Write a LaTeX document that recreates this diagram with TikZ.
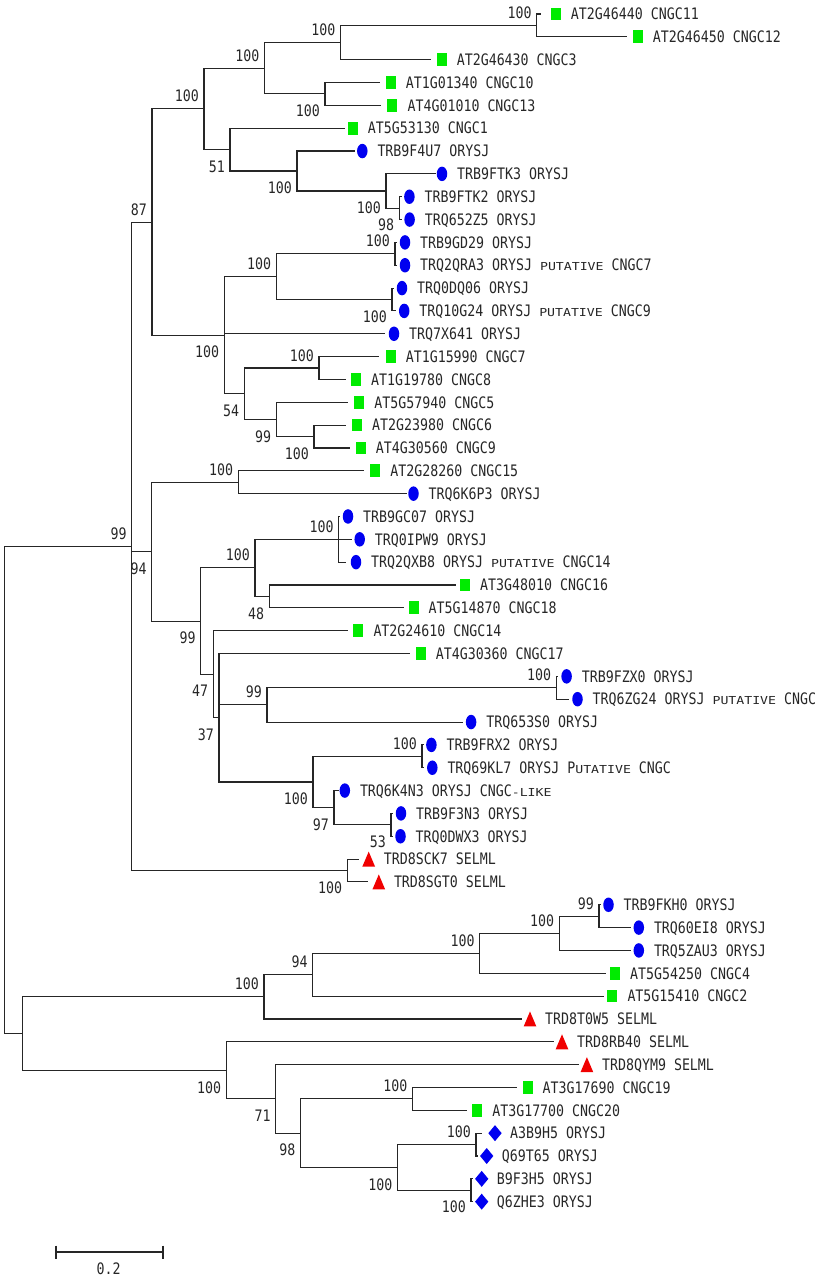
\documentclass[tikz,border=0pt]{standalone}
\usepackage{fontspec}
\usetikzlibrary{shapes.geometric}
\newfontfamily\monof[FakeStretch=0.84]{DejaVu Sans Mono}
\newfontfamily\monosc[FakeStretch=1.2]{DejaVu Sans Mono}
\newcommand\mysc[1]{{\fontsize{11pt}{12pt}\monosc #1}}
\definecolor{mygreen}{RGB}{0,235,0}
\definecolor{myblue}{RGB}{0,0,240}
\definecolor{myred}{RGB}{240,0,0}
\newcommand\treeleaf[6]{%
  \coordinate (l#1) at (#3,#2);
  \node[#5] (m#1) at (#4,#2) {};
  \node[lab] (t#1) at (#4+15,#2) {#6};}
\newcommand\treenode[5]{%
  \coordinate (#1) at (#2,#3);
  \node[#5] (b#1) at (#1) {#4};}
\tikzset{
  edge/.style={draw=black!85, line width=1.1pt},
  txt/.style={font={\fontsize{15.8pt}{16pt}\selectfont\monof}, text=black!85, inner sep=0pt},
  lab/.style={txt, anchor=base west, yshift=-5.75pt},
  boot/.style={txt, anchor=base east},
  ab/.style={boot, xshift=-5pt, yshift=7pt},
  bl/.style={boot, xshift=-5pt, yshift=-22.7pt},
  sq/.style={rectangle, fill=mygreen, minimum width=10pt, minimum height=12.7pt, inner sep=0pt},
  dot/.style={ellipse, fill=myblue, minimum width=10.5pt, minimum height=14.5pt, inner sep=0pt},
  tri/.style={rectangle, minimum width=12.7pt, minimum height=15pt, inner sep=0pt,
    path picture={\fill[myred] (path picture bounding box.south west) -- (path picture bounding box.south east) -- (path picture bounding box.north) -- cycle;}},
  dia/.style={rectangle, minimum width=13.3pt, minimum height=16pt, inner sep=0pt,
    path picture={\fill[myblue] (path picture bounding box.west) -- (path picture bounding box.north) -- (path picture bounding box.east) -- (path picture bounding box.south) -- cycle;}}
}
\begin{document}
\begin{tikzpicture}[x=1pt, y=-22.84pt]
\useasboundingbox (0pt,0pt) rectangle (827pt,-1283pt);
\begin{scope}[yshift=8.84pt]
% leaves
\treeleaf{1}{1}{540.7}{555.7}{sq}{AT2G46440 CNGC11}
\treeleaf{2}{2}{627.3}{637.7}{sq}{AT2G46450 CNGC12}
\treeleaf{3}{3}{431.2}{441.6}{sq}{AT2G46430 CNGC3}
\treeleaf{4}{4}{379.8}{390.6}{sq}{AT1G01340 CNGC10}
\treeleaf{5}{5}{381}{392.4}{sq}{AT4G01010 CNGC13}
\treeleaf{6}{6}{344.9}{352.7}{sq}{AT5G53130 CNGC1}
\treeleaf{7}{7}{354.9}{362.3}{dot}{TRB9F4U7 ORYSJ}
\treeleaf{8}{8}{435.5}{442}{dot}{TRB9FTK3 ORYSJ}
\treeleaf{9}{9}{401.5}{409.4}{dot}{TRB9FTK2 ORYSJ}
\treeleaf{10}{10}{401.5}{409.6}{dot}{TRQ652Z5 ORYSJ}
\treeleaf{11}{11}{397}{405}{dot}{TRB9GD29 ORYSJ}
\treeleaf{12}{12}{397}{405}{dot}{TRQ2QRA3 ORYSJ \mysc{PUTATIVE} CNGC7}
\treeleaf{13}{13}{394}{402}{dot}{TRQ0DQ06 ORYSJ}
\treeleaf{14}{14}{396}{404.2}{dot}{TRQ10G24 ORYSJ \mysc{PUTATIVE} CNGC9}
\treeleaf{15}{15}{385.4}{394}{dot}{TRQ7X641 ORYSJ}
\treeleaf{16}{16}{378.9}{390.6}{sq}{AT1G15990 CNGC7}
\treeleaf{17}{17}{346}{356}{sq}{AT1G19780 CNGC8}
\treeleaf{18}{18}{348.3}{359.2}{sq}{AT5G57940 CNGC5}
\treeleaf{19}{19}{346}{357}{sq}{AT2G23980 CNGC6}
\treeleaf{20}{20}{350.4}{360.7}{sq}{AT4G30560 CNGC9}
\treeleaf{21}{21}{364.4}{375.2}{sq}{AT2G28260 CNGC15}
\treeleaf{22}{22}{406.5}{413.5}{dot}{TRQ6K6P3 ORYSJ}
\treeleaf{23}{23}{340}{348}{dot}{TRB9GC07 ORYSJ}
\treeleaf{24}{24}{352}{359.7}{dot}{TRQ0IPW9 ORYSJ}
\treeleaf{25}{25}{345.7}{356}{dot}{TRQ2QXB8 ORYSJ \mysc{PUTATIVE} CNGC14}
\treeleaf{26}{26}{455.7}{465}{sq}{AT3G48010 CNGC16}
\treeleaf{27}{27}{404.2}{413.5}{sq}{AT5G14870 CNGC18}
\treeleaf{28}{28}{348}{358.3}{sq}{AT2G24610 CNGC14}
\treeleaf{29}{29}{409.8}{420.6}{sq}{AT4G30360 CNGC17}
\treeleaf{30}{30}{558}{566.6}{dot}{TRB9FZX0 ORYSJ}
\treeleaf{31}{31}{569.4}{577.5}{dot}{TRQ6ZG24 ORYSJ \mysc{PUTATIVE} CNGC}
\treeleaf{32}{32}{462.7}{471.1}{dot}{TRQ653S0 ORYSJ}
\treeleaf{33}{33}{423.5}{431.4}{dot}{TRB9FRX2 ORYSJ}
\treeleaf{34}{34}{424}{432.3}{dot}{TRQ69KL7 ORYSJ P\mysc{UTATIVE} CNGC}
\treeleaf{35}{35}{338.7}{344.8}{dot}{TRQ6K4N3 ORYSJ CNGC\mysc{-LIKE}}
\treeleaf{36}{36}{392.5}{401}{dot}{TRB9F3N3 ORYSJ}
\treeleaf{37}{37}{392.5}{400.5}{dot}{TRQ0DWX3 ORYSJ}
\treeleaf{38}{38}{359.3}{368.7}{tri}{TRD8SCK7 SELML}
\treeleaf{39}{39}{368.3}{378.8}{tri}{TRD8SGT0 SELML}
\treeleaf{40}{40}{601}{608.5}{dot}{TRB9FKH0 ORYSJ}
\treeleaf{41}{41}{630.8}{638.8}{dot}{TRQ60EI8 ORYSJ}
\treeleaf{42}{42}{630.8}{638.8}{dot}{TRQ5ZAU3 ORYSJ}
\treeleaf{43}{43}{605.9}{615}{sq}{AT5G54250 CNGC4}
\treeleaf{44}{44}{604.4}{612.3}{sq}{AT5G15410 CNGC2}
\treeleaf{45}{45}{522.2}{530}{tri}{TRD8T0W5 SELML}
\treeleaf{46}{46}{554}{562}{tri}{TRD8RB40 SELML}
\treeleaf{47}{47}{579}{586.9}{tri}{TRD8QYM9 SELML}
\treeleaf{48}{48}{516.9}{527.5}{sq}{AT3G17690 CNGC19}
\treeleaf{49}{49}{466.5}{477.1}{sq}{AT3G17700 CNGC20}
\treeleaf{50}{50}{481.7}{495}{dia}{A3B9H5 ORYSJ}
\treeleaf{51}{51}{478}{486.7}{dia}{Q69T65 ORYSJ}
\treeleaf{52}{52}{473}{481.7}{dia}{B9F3H5 ORYSJ}
\treeleaf{53}{53}{473}{481.7}{dia}{Q6ZHE3 ORYSJ}
% internal nodes
\treenode{D}{536.7}{1.5}{100}{ab}
\treenode{C}{340.5}{2.25}{100}{ab}
\treenode{E}{325}{4.5}{100}{bl}
\treenode{B}{264.6}{3.375}{100}{ab}
\treenode{I}{399.3}{9.5}{98}{bl}
\treenode{H}{386}{8.75}{100}{bl}
\treenode{G}{297}{7.875}{100}{bl}
\treenode{F}{230}{6.9375}{51}{bl}
\treenode{A}{204}{5.15625}{100}{ab}
\treenode{M}{395}{11.5}{100}{ab}
\treenode{N}{392}{13.5}{100}{bl}
\treenode{K}{276.4}{12.5}{100}{ab}
\treenode{O}{319}{16.5}{100}{ab}
\treenode{Q}{314}{19.5}{100}{bl}
\treenode{P}{276.4}{18.75}{99}{bl}
\treenode{L}{244.3}{17.625}{54}{bl}
\treenode{J}{224.3}{15.0625}{100}{bl}
\treenode{N87}{152}{10.109}{87}{ab}
\treenode{W}{238.3}{21.5}{100}{ab}
\treenode{Z}{338.7}{24}{100}{ab}
\treenode{AA}{269.4}{26.5}{48}{bl}
\treenode{Y}{255}{25.25}{100}{ab}
\treenode{AF}{556.3}{30.5}{100}{ab}
\treenode{AD}{267}{31.25}{99}{ab}
\treenode{AG}{422}{33.5}{100}{ab}
\treenode{AI}{391}{36.5}{53}{bl}
\treenode{AH}{334}{35.75}{97}{bl}
\treenode{AE}{313}{34.625}{100}{bl}
\treenode{AC}{219}{31.8125}{37}{bl}
\treenode{AB}{213.3}{29.906}{47}{bl}
\treenode{X}{200.7}{27.578}{99}{bl}
\treenode{V}{151.7}{24.539}{94}{bl}
\treenode{SEL}{347.3}{38.5}{100}{bl}
\treenode{U}{131.7}{24.30}{99}{ab}
\treenode{BE}{599}{40.5}{99}{ab}
\treenode{BD}{559.3}{41.25}{100}{ab}
\treenode{BC}{479.8}{42.125}{100}{ab}
\treenode{BB}{312.8}{43.0625}{94}{ab}
\treenode{BA}{264}{44.03}{100}{ab}
\treenode{CD}{412.5}{48.5}{100}{ab}
\treenode{CF}{476}{50.5}{100}{ab}
\treenode{CG}{471}{52.5}{100}{bl}
\treenode{CE}{397.6}{51.5}{100}{bl}
\treenode{CC}{300.6}{50}{98}{bl}
\treenode{CB}{275.7}{48.5}{71}{bl}
\treenode{CA}{226.4}{47.25}{100}{bl}
\coordinate (R2) at (22.8,45.64);
\coordinate (R) at (4.3,34.97);
% edges
\foreach \p/\c in {D/l1,D/l2,C/D,C/l3,E/l4,E/l5,B/C,B/E,I/l9,I/l10,H/l8,H/I,G/l7,G/H,F/l6,F/G,A/B,A/F,
  M/l11,M/l12,N/l13,N/l14,K/M,K/N,O/l16,O/l17,Q/l19,Q/l20,P/l18,P/Q,L/O,L/P,J/K,J/l15,J/L,N87/A,N87/J,
  W/l21,W/l22,Z/l23,Z/l24,Z/l25,AA/l26,AA/l27,Y/Z,Y/AA,AF/l30,AF/l31,AD/AF,AD/l32,AG/l33,AG/l34,
  AI/l36,AI/l37,AH/l35,AH/AI,AE/AG,AE/AH,AC/l29,AC/AD,AC/AE,AB/l28,AB/AC,X/Y,X/AB,V/W,V/X,
  SEL/l38,SEL/l39,U/N87,U/V,U/SEL,BE/l40,BE/l41,BD/BE,BD/l42,BC/BD,BC/l43,BB/BC,BB/l44,BA/BB,BA/l45,
  CD/l48,CD/l49,CF/l50,CF/l51,CG/l52,CG/l53,CE/CF,CE/CG,CC/CD,CC/CE,CB/l47,CB/CC,CA/l46,CA/CB,
  R2/BA,R2/CA,R/U,R/R2}
  \draw[edge] (\p) |- (\c);
\end{scope}
% scale bar
\coordinate (sb1) at (55.7pt,-1252pt);
\coordinate (sb2) at (162.8pt,-1252pt);
\draw[black!85, line width=2.4pt] (sb1) -- (sb2);
\draw[black!85, line width=1.8pt] ([yshift=6.5pt]sb1) -- ([yshift=-6.5pt]sb1);
\draw[black!85, line width=1.8pt] ([yshift=6.5pt]sb2) -- ([yshift=-6.5pt]sb2);
\node[txt, anchor=base] (sbl) at (108.7pt,-1274pt) {0.2};
\end{tikzpicture}
\end{document}
